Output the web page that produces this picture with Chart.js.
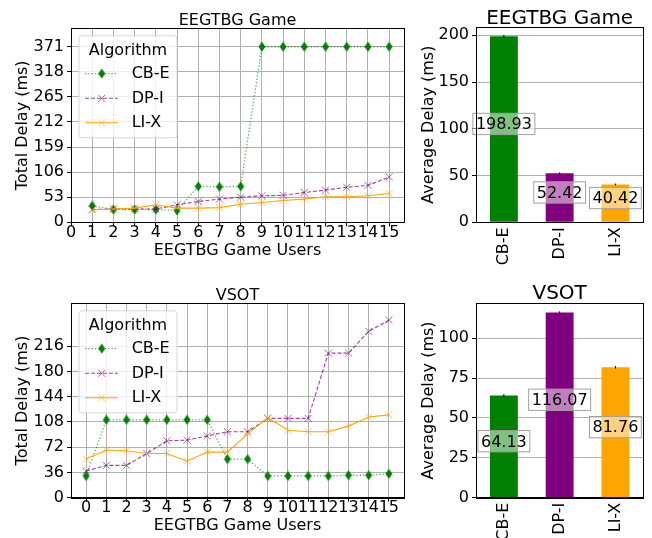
<!DOCTYPE html>
<html>
<head>
<meta charset="utf-8">
<script src="https://cdn.jsdelivr.net/npm/chart.js@4.4.0/dist/chart.umd.min.js"></script>
<style>
  html, body { margin: 0; padding: 0; background: #fff; }
  #wrap { position: relative; width: 652px; height: 538px; overflow: hidden; }
  canvas { position: absolute; }
</style>
</head>
<body>
<div id="wrap">
  <canvas id="eegLine" style="left:0;top:0" width="420" height="270"></canvas>
  <canvas id="eegBar" style="left:410px;top:0" width="242" height="270"></canvas>
  <canvas id="vsotLine" style="left:0;top:270px" width="420" height="268"></canvas>
  <canvas id="vsotBar" style="left:410px;top:270px" width="242" height="268"></canvas>
</div>
<script>
// algorithms compared in every panel
const algorithms = ['CB-E', 'DP-I', 'LI-X'];

// EEGTBG Game: total delay per number of users (ms)
const eegUsers = [1, 2, 3, 4, 5, 6, 7, 8, 9, 10, 11, 12, 13, 14, 15];
const eegCBE = [35, 27, 27, 27, 25, 76, 75, 76, 371, 371, 371, 371, 371, 371, 371];
const eegDPI = [27, 28, 28, 28, 37, 44, 49, 53, 56, 57, 63, 68, 74, 78, 96];
const eegLIX = [26, 28, 30, 37, 30, 30, 31, 38, 42, 46, 49, 54, 54, 56, 61];
const eegXTicks = [0, 1, 2, 3, 4, 5, 6, 7, 8, 9, 10, 11, 12, 13, 14, 15];
const eegYTicks = [0, 53, 106, 159, 212, 265, 318, 371];

// VSOT: total delay per number of users (ms)
const vsotUsers = [0, 1, 2, 3, 4, 5, 6, 7, 8, 9, 10, 11, 12, 13, 14, 15];
const vsotCBE = [31, 111, 111, 111, 111, 111, 111, 55, 55, 31, 31, 31, 31, 32, 32, 34];
const vsotDPI = [38, 46, 46, 63, 81, 82, 88, 94, 94, 113, 113, 113, 206, 206, 237, 253];
const vsotLIX = [55, 68, 67, 63, 63, 52, 65, 65, 91, 114, 96, 94, 94, 102, 115, 118];
const vsotXTicks = [0, 1, 2, 3, 4, 5, 6, 7, 8, 9, 10, 11, 12, 13, 14, 15];
const vsotYTicks = [0, 36, 72, 108, 144, 180, 216];

// average delay per algorithm (ms) and its error
const eegAvg = [198.93, 52.42, 40.42];
const eegErr = [1.5, 1, 1];
const vsotAvg = [64.13, 116.07, 81.76];
const vsotErr = [0.8, 0.8, 0.8];

Chart.defaults.font.family = 'DejaVu Sans';
Chart.defaults.font.size = 16;
Chart.defaults.color = '#000';
Chart.defaults.animation = false;

const GRID = '#b0b0b0';

// narrow diamond marker
function thinDiamond(color) {
  const c = document.createElement('canvas');
  c.width = 8; c.height = 11;
  const g = c.getContext('2d');
  g.fillStyle = color;
  g.beginPath();
  g.moveTo(4, 0.5); g.lineTo(7.5, 5.5); g.lineTo(4, 10.5); g.lineTo(0.5, 5.5);
  g.closePath();
  g.fill();
  return c;
}

const seriesStyle = {
  'CB-E': { line: 'rgba(0,128,0,0.65)', width: 1.3, point: '#008000', dash: [1.3, 2], marker: thinDiamond('#008000') },
  'DP-I': { line: 'rgba(128,0,128,0.75)', width: 1.1, point: 'rgba(128,0,128,0.6)', dash: [4, 2], marker: 'crossRot' },
  'LI-X': { line: '#ffa500', width: 1.1, point: 'rgba(255,165,0,0.6)', dash: [], marker: 'crossRot' }
};
const barColors = ['#008000', '#800080', '#ffa500'];

function lineDatasets(xs, series) {
  return algorithms.map((name, i) => {
    const s = seriesStyle[name];
    return {
      label: name,
      data: xs.map((x, j) => ({ x: x, y: series[i][j] })),
      borderColor: s.line,
      borderWidth: s.width,
      borderDash: s.dash,
      pointStyle: s.marker,
      pointRadius: 5,
      pointBorderWidth: 1,
      pointBorderColor: s.point,
      pointBackgroundColor: s.point,
      tension: 0,
      fill: false,
      order: 2 - i
    };
  });
}

// black box around the plotting area
const frame = {
  id: 'frame',
  afterDraw(chart) {
    const a = chart.chartArea, ctx = chart.ctx;
    ctx.save();
    ctx.strokeStyle = '#000';
    ctx.lineWidth = 1;
    ctx.strokeRect(Math.round(a.left) + 0.5, Math.round(a.top) + 0.5,
      Math.round(a.right) - Math.round(a.left), Math.round(a.bottom) - Math.round(a.top));
    ctx.restore();
  }
};

// legend box with a title, in the upper left corner of the plot
const algoLegend = {
  id: 'algoLegend',
  afterDatasetsDraw(chart) {
    const a = chart.chartArea, ctx = chart.ctx;
    const bx = a.left + 8, by = a.top + 7.5, bw = 98, bh = 102, r = 3;
    ctx.save();
    ctx.beginPath();
    ctx.moveTo(bx + r, by);
    ctx.arcTo(bx + bw, by, bx + bw, by + bh, r);
    ctx.arcTo(bx + bw, by + bh, bx, by + bh, r);
    ctx.arcTo(bx, by + bh, bx, by, r);
    ctx.arcTo(bx, by, bx + bw, by, r);
    ctx.closePath();
    ctx.fillStyle = 'rgba(255,255,255,0.8)';
    ctx.fill();
    ctx.strokeStyle = 'rgba(204,204,204,0.8)';
    ctx.lineWidth = 1;
    ctx.stroke();

    ctx.font = '16px "DejaVu Sans"';
    ctx.fillStyle = '#000';
    ctx.textAlign = 'center';
    ctx.textBaseline = 'middle';
    ctx.fillText('Algorithm', bx + bw / 2, by + 15.5);

    const rows = [37.8, 62.5, 87];
    chart.data.datasets.forEach((ds, i) => {
      const y = by + rows[i];
      ctx.strokeStyle = ds.borderColor;
      ctx.lineWidth = ds.borderWidth;
      ctx.setLineDash(ds.borderDash);
      ctx.beginPath();
      ctx.moveTo(bx + 6, y);
      ctx.lineTo(bx + 39, y);
      ctx.stroke();
      ctx.setLineDash([]);
      const mx = bx + 22.7;
      if (typeof ds.pointStyle === 'string') {
        const h = ds.pointRadius * Math.SQRT1_2;
        ctx.strokeStyle = ds.pointBorderColor;
        ctx.lineWidth = ds.pointBorderWidth;
        ctx.beginPath();
        ctx.moveTo(mx - h, y - h); ctx.lineTo(mx + h, y + h);
        ctx.moveTo(mx + h, y - h); ctx.lineTo(mx - h, y + h);
        ctx.stroke();
      } else {
        ctx.drawImage(ds.pointStyle, mx - ds.pointStyle.width / 2, y - ds.pointStyle.height / 2);
      }
      ctx.fillStyle = '#000';
      ctx.textAlign = 'left';
      ctx.fillText(ds.label, bx + 52.7, y + 0.5);
    });
    ctx.restore();
  }
};

// error ticks and boxed value labels on the bars
const barNotes = {
  id: 'barNotes',
  afterDatasetsDraw(chart, args, opts) {
    const ctx = chart.ctx, ys = chart.scales.y;
    const vals = chart.data.datasets[0].data;
    chart.getDatasetMeta(0).data.forEach((bar, i) => {
      ctx.save();
      ctx.strokeStyle = '#000';
      ctx.lineWidth = 1;
      ctx.beginPath();
      ctx.moveTo(bar.x, ys.getPixelForValue(vals[i] - opts.errors[i]));
      ctx.lineTo(bar.x, ys.getPixelForValue(vals[i] + opts.errors[i]));
      ctx.stroke();

      const txt = vals[i].toFixed(2);
      ctx.font = '16px "DejaVu Sans"';
      const w = ctx.measureText(txt).width;
      const yb = ys.getPixelForValue(vals[i] / 2);
      ctx.fillStyle = 'rgba(255,255,255,0.5)';
      ctx.fillRect(bar.x - w / 2 - 3, yb - 16, w + 6, 21.3);
      ctx.strokeStyle = '#a0a0a0';
      ctx.strokeRect(bar.x - w / 2 - 3, yb - 16, w + 6, 21.3);
      ctx.fillStyle = '#000';
      ctx.textAlign = 'center';
      ctx.textBaseline = 'alphabetic';
      ctx.fillText(txt, bar.x, yb);
      ctx.restore();
    });
  }
};

function lineChart(id, o) {
  new Chart(document.getElementById(id), {
    type: 'line',
    data: { datasets: lineDatasets(o.users, o.series) },
    options: {
      responsive: false,
      animation: false,
      layout: { padding: { left: 0, right: 16, top: 0, bottom: 0 } },
      plugins: {
        legend: { display: false },
        tooltip: { enabled: false },
        title: {
          display: true, text: o.title, color: '#000', fullSize: false,
          font: { size: 16, weight: 'normal', lineHeight: 1 },
          padding: { top: o.titleTop, bottom: -0.5 }
        }
      },
      scales: {
        x: {
          type: 'linear', min: o.xMin, max: o.xMax,
          afterBuildTicks: sc => { sc.ticks = o.xTicks.map(v => ({ value: v })); },
          afterFit: sc => { sc.height = o.xHeight; },
          ticks: { autoSkip: false, maxRotation: 0, padding: -3, callback: v => String(v) },
          grid: { color: GRID, tickColor: '#000', tickLength: 4 },
          border: { color: '#000' },
          title: {
            display: true, text: 'EEGTBG Game Users',
            font: { size: 16 }, padding: { top: 0, bottom: o.xTitleBottom }
          }
        },
        y: {
          min: 0, max: o.yMax,
          afterBuildTicks: sc => { sc.ticks = o.yTicks.map(v => ({ value: v })); },
          afterFit: sc => { sc.width = 71; },
          ticks: { padding: 3, callback: v => String(v) },
          grid: { color: GRID, tickColor: '#000', tickLength: 4 },
          border: { color: '#000' },
          title: {
            display: true, text: 'Total Delay (ms)',
            font: { size: 16 }, padding: { top: 13.7, bottom: 0 }
          }
        }
      }
    },
    plugins: [frame, algoLegend]
  });
}

function barChart(id, o) {
  new Chart(document.getElementById(id), {
    type: 'bar',
    data: {
      labels: algorithms,
      datasets: [{
        data: o.values,
        backgroundColor: barColors,
        barPercentage: 0.5,
        categoryPercentage: 1
      }]
    },
    options: {
      responsive: false,
      animation: false,
      layout: { padding: { left: 0, right: 8.7, top: 0, bottom: 0 } },
      plugins: {
        legend: { display: false },
        tooltip: { enabled: false },
        title: {
          display: true, text: o.title, color: '#000', fullSize: false,
          font: { size: 20, weight: 'normal', lineHeight: 1 },
          padding: { top: o.titleTop, bottom: o.titleBottom }
        },
        barNotes: { errors: o.errors }
      },
      scales: {
        x: {
          afterFit: sc => { sc.height = o.xHeight; },
          ticks: { minRotation: 90, maxRotation: 90, padding: 5, autoSkip: false },
          grid: { display: false, drawTicks: false },
          border: { color: '#000' }
        },
        y: {
          min: 0, max: Math.max(...o.values) * 1.05,
          afterFit: sc => { sc.width = 66; },
          ticks: { stepSize: o.step, includeBounds: false, padding: 3 },
          grid: { color: GRID, tickColor: '#000', tickLength: 4 },
          border: { color: '#000' },
          title: {
            display: true, text: 'Average Delay (ms)',
            font: { size: 16 }, padding: { top: 9.4, bottom: 0 }
          }
        }
      }
    },
    plugins: [frame, barNotes]
  });
}

lineChart('eegLine', {
  title: 'EEGTBG Game', users: eegUsers, series: [eegCBE, eegDPI, eegLIX],
  xMin: 0, xMax: 15.7, xTicks: eegXTicks,
  yMax: Math.max(...eegCBE) * 1.105, yTicks: eegYTicks,
  titleTop: 12.8, xHeight: 47.7, xTitleBottom: 9.9
});
lineChart('vsotLine', {
  title: 'VSOT', users: vsotUsers, series: [vsotCBE, vsotDPI, vsotLIX],
  xMin: -0.75, xMax: 15.75, xTicks: vsotXTicks,
  yMax: Math.max(...vsotDPI) * 1.095, yTicks: vsotYTicks,
  titleTop: 17.8, xHeight: 40.3, xTitleBottom: 2.9
});
barChart('eegBar', {
  title: 'EEGTBG Game', values: eegAvg, errors: eegErr, step: 50,
  titleTop: 8.5, titleBottom: -1.5, xHeight: 47.7
});
barChart('vsotBar', {
  title: 'VSOT', values: vsotAvg, errors: vsotErr, step: 25,
  titleTop: 14, titleBottom: -0.7, xHeight: 40.3
});
</script>
</body>
</html>
